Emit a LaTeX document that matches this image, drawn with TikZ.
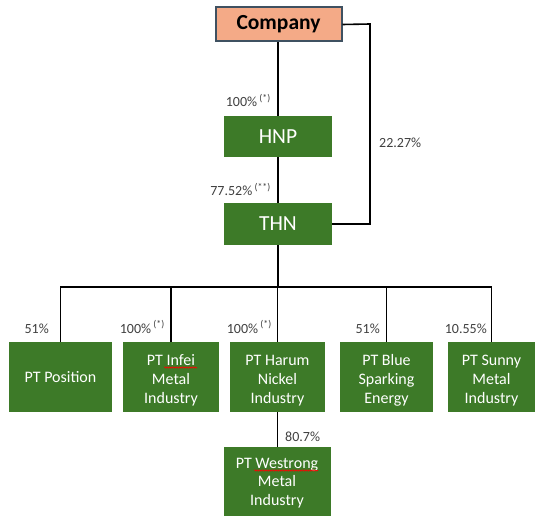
\documentclass[tikz,border=0pt]{standalone}
\usepackage{fontspec}
\setmainfont{Carlito}
\usetikzlibrary{decorations.pathmorphing}
\definecolor{boxgreen}{HTML}{3D7A28}
\definecolor{salmon}{HTML}{F4AA87}
\definecolor{slate}{HTML}{3F5161}
\definecolor{labelgray}{HTML}{404040}
\newcommand{\topst}[1]{\rule{0pt}{#1}}
\newcommand{\botst}{\rule[-3.5pt]{0pt}{3.5pt}}
\begin{document}
\begin{tikzpicture}[x=1pt,y=-1pt,
  gbox/.style={draw=none, fill=boxgreen, text=white, align=center, inner sep=0pt, font=\fontsize{16}{19}\selectfont},
  bigbox/.style={gbox, font=\fontsize{21.5}{24}\selectfont, minimum width=108pt},
  rowbox/.style={gbox, minimum height=70pt},
  conn/.style={draw=black, line width=1.6pt},
  pct/.style={inner sep=0pt, font=\fontsize{14}{16}\selectfont, text=labelgray},
  squig/.style={draw=red, line width=0.6pt, decorate, decoration={snake, amplitude=0.7pt, segment length=2.5pt}}]
\useasboundingbox (0,0) rectangle (536,516);
% top nodes
\node[draw=slate, line width=2pt, fill=salmon, minimum width=126pt, minimum height=34pt, inner sep=0pt, font=\bfseries\fontsize{21.5}{24}\selectfont] (company) at (278.5,24.5) {Company};
\node[bigbox, minimum height=41pt] (hnp) at (278,136.5) {HNP};
\node[bigbox, minimum height=42pt] (thn) at (278,224) {THN};
% row nodes
\node[rowbox, minimum width=103pt] (b1) at (60.5,377) {PT Position};
\node[rowbox, minimum width=96pt] (b2) at (171,377) {\topst{18pt}PT Infei\\Metal\\Industry\botst};
\node[rowbox, minimum width=95pt] (b3) at (277.5,377) {\topst{18pt}PT Harum\\Nickel\\Industry\botst};
\node[rowbox, minimum width=93pt] (b4) at (386.5,377) {\topst{18pt}PT Blue\\Sparking\\Energy\botst};
\node[rowbox, minimum width=87pt] (b5) at (491.5,377) {\topst{18pt}PT Sunny\\Metal\\Industry\botst};
\node[gbox, minimum width=107pt, minimum height=70pt, font=\fontsize{16}{18.5}\selectfont] (w) at (277,482) {\topst{12.5pt}PT Westrong\\Metal\\Industry\botst};
% connectors
\draw[conn] (company.south -| hnp.north) -- (hnp.north);
\draw[conn] (hnp.south) -- (thn.north);
\coordinate (rc) at (370,24);
\draw[conn] (company.east) -- (rc) |- (thn.east);
\coordinate (bus) at (278,287);
\draw[conn] (thn.south) -- (bus);
\draw[conn] (b1.north) |- (bus) -| (b5.north);
\draw[conn] (b2.north) -- (b2.north |- bus);
\draw[conn] (b3.north) -- (b3.north |- bus);
\draw[conn] (b4.north) -- (b4.north |- bus);
\draw[conn] (b3.south) -- (b3.south |- w.north);
% labels
\node[pct, anchor=base east] (l1) at (271,107) {100\%\,\textsuperscript{(*)}};
\node[pct, anchor=base east] (l2) at (271,195.5) {77.52\%\,\textsuperscript{(**)}};
\node[pct, anchor=base west] (l3) at (379,148) {22.27\%};
\node[pct, anchor=base east] (l4) at (49,333) {51\%};
\node[pct, anchor=base east] (l5) at (165,333) {100\%\,\textsuperscript{(*)}};
\node[pct, anchor=base east] (l6) at (272,333) {100\%\,\textsuperscript{(*)}};
\node[pct, anchor=base east] (l7) at (380,333) {51\%};
\node[pct, anchor=base east] (l8) at (487,333) {10.55\%};
\node[pct, anchor=base west] (l9) at (285,441) {80.7\%};
% spell-check underlines
\draw[squig] (164,367.5) -- (197,367.5);
\draw[squig] (254,470.5) -- (318,470.5);
\end{tikzpicture}
\end{document}
